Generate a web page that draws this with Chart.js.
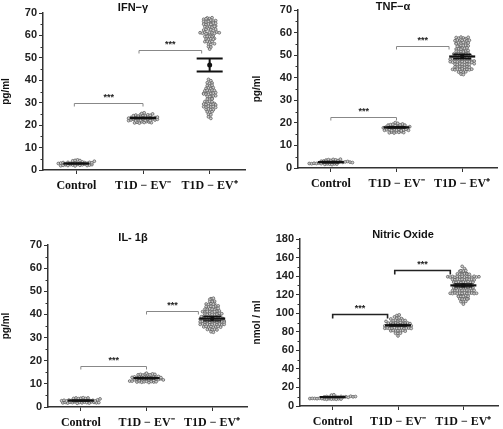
<!DOCTYPE html>
<html>
<head>
<meta charset="utf-8">
<script src="https://cdn.jsdelivr.net/npm/chart.js@4.4.1/dist/chart.umd.min.js"></script>
<style>
html, body { margin: 0; padding: 0; background: #fff; }
body { width: 503px; height: 429px; position: relative; overflow: hidden; }
canvas { position: absolute; }
</style>
</head>
<body>
<canvas id="ifnChart" width="251" height="200" style="left:0;top:0"></canvas>
<canvas id="tnfChart" width="252" height="200" style="left:251px;top:0"></canvas>
<canvas id="il1Chart" width="251" height="214" style="left:0;top:215px"></canvas>
<canvas id="noChart" width="252" height="214" style="left:251px;top:215px"></canvas>
<script>
const groups = ["Control", "T1D − EV⁻", "T1D − EV⁺"];
const pgTicks = [0, 10, 20, 30, 40, 50, 60, 70];
const noTicks = [0, 20, 40, 60, 80, 100, 120, 140, 160, 180];

// IFN-gamma (pg/ml)
const ifnControl = [1.9,2.1,2.3,2.0,2.4,2.2,1.8,2.5,2.1,2.3,2.6,2.0,2.2,2.4,
    2.9,3.1,3.3,2.8,3.4,3.0,3.2,3.5,2.9,3.1,3.6,3.3,3.0,3.4,3.2,
    4.1,4.3,3.9,4.5,4.2];
const ifnEVneg = [21.0,21.3,20.9,21.5,21.2,21.6,21.4,21.1,
    22.0,22.3,22.6,21.9,22.4,22.2,22.7,22.1,22.5,22.0,22.8,22.3,22.6,
    23.1,23.4,23.0,23.6,23.2,23.8,23.3,23.5,22.9,23.7,23.1,23.4,23.6,
    24.2,24.5,24.0,24.7,24.3,24.1,24.6,24.4,
    25.2,25.5,25.0];
const ifnEVpos = [67.8,67.5,67.2,67.9,67.4,
    66.5,66.2,66.8,66.0,66.4,66.6,66.1,
    65.0,65.3,64.8,65.5,65.1,64.9,65.4,
    63.9,64.1,63.6,63.8,64.2,63.7,64.0,
    62.4,62.7,62.9,62.5,62.2,62.8,
    61.2,61.0,61.4,60.8,61.3,61.1,60.9,61.5,60.7,61.2,
    59.8,59.5,59.9,59.6,59.4,59.7,59.3,
    58.4,58.6,58.2,58.5,58.3,
    57.2,57.4,57.0,57.3,
    56.1,56.3,55.9,
    55.0,54.8,
    53.9,
    40.4,39.8,
    38.9,38.6,38.8,
    37.6,37.4,37.8,
    36.4,36.6,36.3,36.7,
    35.3,35.5,35.2,35.6,35.4,
    34.2,34.0,34.4,33.9,34.1,34.3,33.8,34.5,33.7,
    32.9,33.0,32.8,32.7,33.1,
    31.6,31.8,31.5,31.7,
    30.5,30.3,30.6,30.4,
    29.4,29.2,29.5,29.1,29.3,29.6,29.0,
    28.2,28.0,28.4,28.1,28.3,27.9,
    27.0,27.2,26.9,26.8,
    25.9,25.7,26.0,
    24.8,24.6,
    23.7,
    23.0];
const ifnMeans = [2.9, 23.2, 46.8];
const ifnErrors = [0.2, 0.3, 2.9];

// TNF-alpha (pg/ml)
const tnfControl = [1.6,1.8,2.0,1.7,1.9,2.1,1.5,1.8,2.0,2.2,1.7,1.9,
    2.6,2.8,2.5,2.9,2.7,2.4,3.0,2.6,2.8,2.5,2.7,2.9,2.6,3.1,2.4,
    3.5,3.7,3.4,3.8,3.6,3.3,3.9];
const tnfEVneg = [15.6,15.9,15.5,16.0,15.8,16.1,15.7,
    16.7,16.9,17.1,16.6,17.0,16.8,17.2,16.5,16.9,17.1,16.7,
    17.8,18.1,17.9,18.3,17.7,18.0,18.2,17.8,18.4,18.1,17.9,18.3,
    19.0,19.2,19.4,18.9,19.3,19.1,19.5,19.0,
    20.1,19.8];
const tnfEVpos = [57.8,57.5,58.0,57.6,57.3,57.9,
    56.4,56.7,56.2,56.5,56.8,56.3,56.6,
    55.2,55.5,55.0,55.3,55.6,55.1,55.4,
    54.0,54.3,53.9,54.2,54.4,54.1,
    52.9,53.1,52.7,53.0,52.8,53.2,52.6,
    51.7,51.9,51.5,51.8,51.6,52.0,51.4,
    50.5,50.7,50.3,50.6,50.4,50.8,50.2,50.5,
    49.3,49.5,49.1,49.4,49.6,49.2,49.0,49.7,
    48.2,48.4,48.0,48.3,48.5,48.1,47.9,48.2,
    47.1,47.3,46.9,47.2,47.4,47.0,46.8,47.1,47.3,46.9,47.2,47.0,47.4,46.8,
    46.0,45.8,46.1,45.9,46.2,45.7,46.0,45.9,
    44.8,44.6,44.9,44.7,44.5,44.8,44.6,
    43.7,43.5,43.8,43.6,43.9,43.4,43.7,43.5,43.8,
    42.5,42.7,42.4,42.6,
    41.6,41.4];
const tnfMeans = [2.6, 18.0, 49.4];
const tnfErrors = [0.3, 0.3, 1.0];

// IL-1beta (pg/ml)
const il1Control = [1.8,2.0,1.7,2.1,1.9,2.2,1.6,2.0,1.8,2.1,1.9,1.7,2.2,2.0,1.8,1.9,
    2.7,2.9,2.6,3.0,2.8,2.5,3.1,2.7,2.9,2.6,3.0,2.8,2.7,2.9,2.6,3.1,
    3.7,3.9,3.6,3.8,3.5,4.0,3.7,3.9];
const il1EVneg = [10.8,11.0,10.7,11.2,10.9,11.1,10.6,11.0,10.8,11.2,10.9,
    11.8,12.0,11.7,12.1,11.9,12.2,11.8,12.0,11.6,12.1,11.9,12.2,11.7,
    12.8,13.0,12.7,13.1,12.9,13.2,12.8,13.0,12.6,13.1,12.9,13.2,12.7,
    13.9,14.1,13.8,14.2,14.0,13.9,14.3,14.1,
    14.6];
const il1EVpos = [46.8,46.5,47.0,
    45.6,45.8,45.4,45.7,
    44.5,44.7,44.3,44.6,44.4,
    43.4,43.6,43.2,43.5,43.3,43.7,
    42.3,42.5,42.1,42.4,42.2,42.6,42.0,
    41.2,41.4,41.0,41.3,41.1,41.5,40.9,41.2,
    40.1,40.3,39.9,40.2,40.0,40.4,39.8,40.1,40.3,
    39.0,39.2,38.8,39.1,38.9,39.3,38.7,39.0,39.2,38.9,
    38.0,37.8,38.1,37.9,38.2,37.7,38.0,37.8,38.1,37.9,
    36.8,37.0,36.7,36.9,37.1,36.6,36.8,37.0,36.7,36.9,37.1,36.8,36.6,
    35.7,35.9,35.6,35.8,35.5,35.7,35.9,35.6,35.8,35.5,35.7,
    34.6,34.8,34.5,34.7,34.4,34.6,34.8,34.5,
    33.5,33.7,33.4,33.6,33.3,
    32.5,32.3];
const il1Means = [2.8, 12.5, 38.2];
const il1Errors = [0.2, 0.3, 1.0];

// Nitric oxide (nmol/ml)
const noControl = [7.5,8.0,7.2,8.2,7.8,7.4,8.1,7.6,7.9,8.3,7.3,7.7,8.0,7.5,
    9.8,10.2,9.5,10.4,9.9,10.1,9.6,10.3,9.7,10.0,9.4,10.5,9.9,10.2,
    11.8,12.1];
const noEVneg = [97.5,96.0,98.2,
    94.5,93.8,95.0,94.2,
    91.8,92.3,91.5,92.0,92.5,91.2,92.1,
    89.2,89.6,88.9,89.4,89.0,89.8,88.7,89.3,89.5,88.8,
    86.4,86.8,86.1,86.6,86.9,86.3,86.7,86.2,86.5,86.0,86.8,86.4,
    83.7,84.0,83.5,83.9,84.2,83.6,83.8,84.1,83.4,83.9,84.0,83.6,
    81.0,81.3,80.8,81.2,80.9,81.4,80.7,
    78.3,78.0,78.5,
    75.5];
const noEVpos = [150.5,148.0,
    145.2,145.8,144.9,145.5,146.0,
    142.4,142.0,142.8,141.7,142.5,142.2,141.9,142.6,
    139.3,139.0,139.6,138.8,139.4,139.1,139.7,138.9,139.5,139.2,138.7,139.8,139.0,139.3,
    136.4,136.1,136.7,136.2,136.5,136.0,136.8,136.3,136.6,135.9,
    133.5,133.2,133.8,133.0,133.6,133.3,133.9,133.1,133.4,
    130.6,130.3,130.9,130.1,130.7,130.4,130.2,130.8,
    127.5,127.2,127.8,127.0,127.6,127.3,127.9,127.1,127.4,
    124.4,124.1,124.7,123.9,124.5,124.2,124.8,124.0,124.3,124.6,
    121.5,121.2,121.8,121.0,121.6,121.3,121.9,121.1,121.4,121.7,121.2,121.5,
    118.4,118.1,118.7,118.0,118.5,118.2,118.8,118.3,
    115.5,115.2,115.8,115.0,115.6,115.3,
    112.4,112.1,112.7,
    109.8];
const noMeans = [9.6, 87.0, 130.0];
const noErrors = [0.4, 1.0, 1.5];

// significance brackets: [from group, to group, y value]
const ifnBrackets = [[-0.03, 1.0, 30], [0.94, 1.88, 53.5]];
const tnfBrackets = [[0, 1, 22.6], [1, 1.8, 54]];
const il1Brackets = [[0, 1, 17.7], [1, 1.79, 41.5]];
const noBrackets = [[0, 0.84, 99], [0.95, 1.8, 146.5]];

const DOT_GAP = 2.4;
const ROW_H = 2.5;

const panels = [
    { id: "ifnChart", title: "IFN−γ", yTitle: "pg/ml", ticks: pgTicks,
      series: [ifnControl, ifnEVneg, ifnEVpos], means: ifnMeans, errors: ifnErrors,
      brackets: ifnBrackets, box: { yWidth: 43, top: 13, right: 6, xHeight: 30 },
      titleAt: [133, 8], split: true, dark: false },
    { id: "tnfChart", title: "TNF−α", yTitle: "pg/ml", ticks: pgTicks,
      series: [tnfControl, tnfEVneg, tnfEVpos], means: tnfMeans, errors: tnfErrors,
      brackets: tnfBrackets, box: { yWidth: 47, top: 10, right: 6, xHeight: 32 },
      titleAt: [142, 7], split: false, dark: false },
    { id: "il1Chart", title: "IL- 1β", yTitle: "pg/ml", ticks: pgTicks,
      series: [il1Control, il1EVneg, il1EVpos], means: il1Means, errors: il1Errors,
      brackets: il1Brackets, box: { yWidth: 48, top: 30, right: 4, xHeight: 22 },
      titleAt: [133, 23], split: false, dark: false },
    { id: "noChart", title: "Nitric Oxide", yTitle: "nmol / ml", ticks: noTicks,
      series: [noControl, noEVneg, noEVpos], means: noMeans, errors: noErrors,
      brackets: noBrackets, box: { yWidth: 49, top: 24, right: 5, xHeight: 23 },
      titleAt: [152, 20], split: false, dark: true }
];

function makeExtras(panel) {
    return {
        id: "extras",
        afterDraw(chart) {
            const ctx = chart.ctx;
            const xs = chart.scales.x, ys = chart.scales.y;
            const axisX = chart.chartArea.left;
            ctx.save();
            // minor ticks on y axis
            ctx.strokeStyle = "#333";
            ctx.lineWidth = 1;
            for (let i = 0; i < panel.ticks.length - 1; i++) {
                const mid = (panel.ticks[i] + panel.ticks[i + 1]) / 2;
                const py = Math.round(ys.getPixelForValue(mid)) + 0.5;
                ctx.beginPath();
                ctx.moveTo(axisX - 2.5, py);
                ctx.lineTo(axisX, py);
                ctx.stroke();
            }
            // mean and error bars
            panel.means.forEach((m, g) => {
                const cx = xs.getPixelForValue(g);
                const py = ys.getPixelForValue(m);
                const hi = ys.getPixelForValue(m + panel.errors[g]);
                const lo = ys.getPixelForValue(m - panel.errors[g]);
                ctx.strokeStyle = "#111";
                ctx.fillStyle = "#111";
                if (panel.split && g === 2) {
                    ctx.lineWidth = 2;
                    ctx.beginPath();
                    ctx.moveTo(cx - 13, hi); ctx.lineTo(cx + 13, hi);
                    ctx.moveTo(cx - 13, lo); ctx.lineTo(cx + 13, lo);
                    ctx.moveTo(cx, hi); ctx.lineTo(cx, lo);
                    ctx.stroke();
                    ctx.beginPath();
                    ctx.arc(cx, py, 2.5, 0, Math.PI * 2);
                    ctx.fill();
                    return;
                }
                ctx.lineWidth = 2.2;
                ctx.beginPath();
                ctx.moveTo(cx - 13, py); ctx.lineTo(cx + 13, py);
                ctx.stroke();
                ctx.lineWidth = 1.3;
                ctx.beginPath();
                ctx.moveTo(cx - 9, hi); ctx.lineTo(cx + 9, hi);
                ctx.moveTo(cx - 9, lo); ctx.lineTo(cx + 9, lo);
                ctx.moveTo(cx, hi); ctx.lineTo(cx, lo);
                ctx.stroke();
                if (g === 2) {
                    ctx.beginPath();
                    ctx.arc(cx, py, 2.2, 0, Math.PI * 2);
                    ctx.fill();
                }
            });
            // significance brackets
            panel.brackets.forEach(([a, b, v]) => {
                const x1 = xs.getPixelForValue(a), x2 = xs.getPixelForValue(b);
                const py = Math.round(ys.getPixelForValue(v)) + 0.5;
                const drop = panel.dark ? 4 : 3;
                ctx.strokeStyle = panel.dark ? "#222" : "#888";
                ctx.lineWidth = panel.dark ? 1.6 : 1;
                ctx.beginPath();
                ctx.moveTo(x1, py + drop); ctx.lineTo(x1, py);
                ctx.lineTo(x2, py); ctx.lineTo(x2, py + drop);
                ctx.stroke();
                ctx.fillStyle = "#222";
                ctx.font = "bold 9px 'Liberation Sans', Arial, sans-serif";
                ctx.textAlign = "center";
                ctx.textBaseline = "middle";
                ctx.fillText("***", (x1 + x2) / 2, py - 6);
            });
            // panel title
            ctx.fillStyle = "#111";
            ctx.font = "bold 11px 'Liberation Sans', Arial, sans-serif";
            ctx.textAlign = "center";
            ctx.textBaseline = "middle";
            ctx.fillText(panel.title, panel.titleAt[0], panel.titleAt[1]);
            ctx.restore();
        }
    };
}

function layoutSwarm(chart, panel) {
    const xs = chart.scales.x, ys = chart.scales.y;
    const unit = xs.getPixelForValue(1) - xs.getPixelForValue(0);
    panel.series.forEach((values, g) => {
        const rows = new Map();
        values.forEach(v => {
            const r = Math.round(ys.getPixelForValue(v) / ROW_H);
            if (!rows.has(r)) rows.set(r, []);
            rows.get(r).push(v);
        });
        const pts = [];
        rows.forEach(list => {
            const n = list.length;
            list.forEach((v, i) => {
                pts.push({ x: g + (i - (n - 1) / 2) * DOT_GAP / unit, y: v });
            });
        });
        chart.data.datasets[g].data = pts;
    });
    chart.update("none");
}

function renderPanel(panel) {
    const ctx = document.getElementById(panel.id).getContext("2d");
    const box = panel.box;
    const chart = new Chart(ctx, {
        type: "scatter",
        data: {
            datasets: panel.series.map((values, g) => ({
                label: groups[g],
                data: values.map(v => ({ x: g, y: v })),
                pointRadius: 1.4,
                pointBorderWidth: 0.7,
                pointBorderColor: "#555",
                pointBackgroundColor: "#cfcfcf",
                pointHoverRadius: 1.4
            }))
        },
        options: {
            responsive: false,
            animation: false,
            events: [],
            layout: { padding: { top: box.top, right: box.right, left: 0, bottom: 0 } },
            plugins: {
                legend: { display: false },
                tooltip: { enabled: false }
            },
            scales: {
                x: {
                    type: "linear",
                    min: -0.5,
                    max: 2.53,
                    afterBuildTicks: (scale) => {
                        scale.ticks = groups.map((g, i) => ({ value: i }));
                    },
                    afterFit: (scale) => { scale.height = box.xHeight; },
                    grid: { display: true, drawOnChartArea: false, drawTicks: true, tickLength: 4, color: "#333", tickWidth: 1 },
                    border: { display: true, color: "#333", width: 1.5 },
                    ticks: {
                        autoSkip: false,
                        maxRotation: 0,
                        padding: 5,
                        color: "#111",
                        font: { family: "'Liberation Serif', 'Times New Roman', serif", size: 12, weight: "bold" },
                        callback: (value) => groups[Math.round(value)]
                    }
                },
                y: {
                    min: panel.ticks[0],
                    max: panel.ticks[panel.ticks.length - 1],
                    afterBuildTicks: (scale) => {
                        scale.ticks = panel.ticks.map(v => ({ value: v }));
                    },
                    afterFit: (scale) => { scale.width = box.yWidth; },
                    grid: { display: true, drawOnChartArea: false, drawTicks: true, tickLength: 4, color: "#333", tickWidth: 1 },
                    border: { display: true, color: "#333", width: 1.5 },
                    title: {
                        display: true,
                        text: panel.yTitle,
                        color: "#111",
                        padding: { top: 0, bottom: 2 },
                        font: { family: "'Liberation Sans', Arial, sans-serif", size: 10, weight: "bold" }
                    },
                    ticks: {
                        padding: 2,
                        color: "#222",
                        font: { family: "'Liberation Sans', Arial, sans-serif", size: 11, weight: "bold" }
                    }
                }
            }
        },
        plugins: [makeExtras(panel)]
    });
    layoutSwarm(chart, panel);
}

panels.forEach(renderPanel);
</script>
</body>
</html>
